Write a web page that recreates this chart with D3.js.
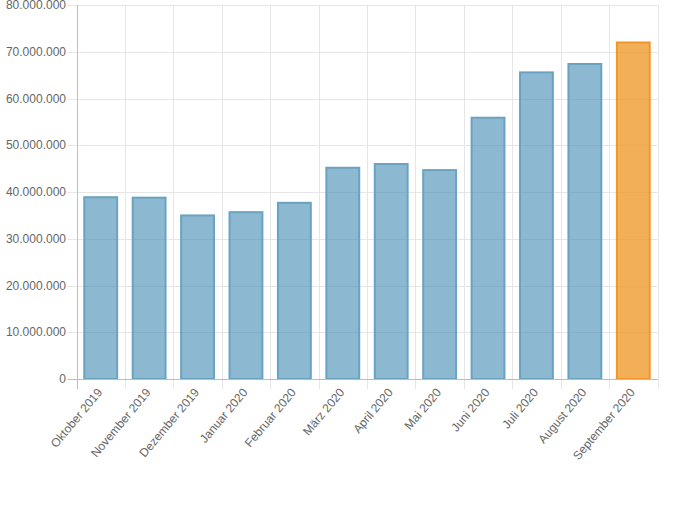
<!DOCTYPE html>
<html><head><meta charset="utf-8">
<script src="https://cdn.jsdelivr.net/npm/d3@7"></script>
<style>body{margin:0;background:#fff}svg{display:block}text{font-family:"Liberation Sans",Arial,Helvetica,sans-serif}</style>
</head><body><svg id="c" width="678" height="508"></svg>
<script>
const categories = ["Oktober 2019","November 2019","Dezember 2019","Januar 2020","Februar 2020","März 2020","April 2020","Mai 2020","Juni 2020","Juli 2020","August 2020","September 2020"];
const values = [39100000,39000000,35200000,35900000,37900000,45400000,46200000,44900000,56100000,65800000,67600000,72200000];
const highlight = [false,false,false,false,false,false,false,false,false,false,false,true];
const yTicks = [0,10000000,20000000,30000000,40000000,50000000,60000000,70000000,80000000];

const svg = d3.select("#c");
const L=76.5, R=657.5, T=5, B=379;
const x = d3.scaleBand().domain(categories).range([L,R]).paddingInner(0).paddingOuter(0);
const y = d3.scaleLinear().domain([0,80000000]).range([B,T]);
const fmt = v => d3.format(",")(v).replace(/,/g,".");

// horizontal grid
svg.append("g").selectAll("line").data(yTicks).join("line")
  .attr("x1",L-9).attr("x2",R).attr("y1",d=>Math.round(y(d))+0.5).attr("y2",d=>Math.round(y(d))+0.5)
  .attr("stroke",d=>d===0?"#bdbdbd":"#e6e6e6").attr("stroke-width",1);
// vertical grid
const vx = categories.map(c=>x(c)).concat([R]);
svg.append("g").selectAll("line").data(vx).join("line")
  .attr("x1",d=>Math.round(d)+0.5).attr("x2",d=>Math.round(d)+0.5).attr("y1",T).attr("y2",B+10)
  .attr("stroke",(d,i)=>i===0?"#bdbdbd":"#e6e6e6").attr("stroke-width",1);
// y labels
svg.append("g").selectAll("text").data(yTicks).join("text")
  .attr("x",L-10.5).attr("y",d=>y(d)).attr("dy","0.35em").attr("text-anchor","end")
  .attr("fill","#666").attr("font-size",12).text(fmt);
// bars
const bw = x.bandwidth()*0.72;
svg.append("g").selectAll("rect").data(categories).join("rect")
  .attr("x",(c)=>x(c)+(x.bandwidth()-bw)/2+1).attr("width",bw-2)
  .attr("y",(c,i)=>y(values[i])+1).attr("height",(c,i)=>B-y(values[i])-1)
  .attr("fill",(c,i)=>highlight[i]?"rgba(240,152,40,0.78)":"rgba(80,146,184,0.65)")
  .attr("stroke",(c,i)=>highlight[i]?"#f0972c":"#6aa3c2").attr("stroke-width",2);
// redraw baseline
svg.append("line").attr("x1",L).attr("x2",R).attr("y1",B+0.5).attr("y2",B+0.5).attr("stroke","#bdbdbd");
// x labels
svg.append("g").selectAll("text").data(categories).join("text")
  .attr("transform",c=>`translate(${x(c)+x.bandwidth()/2-1},${B+11}) rotate(-50)`)
  .attr("text-anchor","end").attr("dy","0.35em")
  .attr("fill","#666").attr("font-size",12).text(c=>c);
</script></body></html>
